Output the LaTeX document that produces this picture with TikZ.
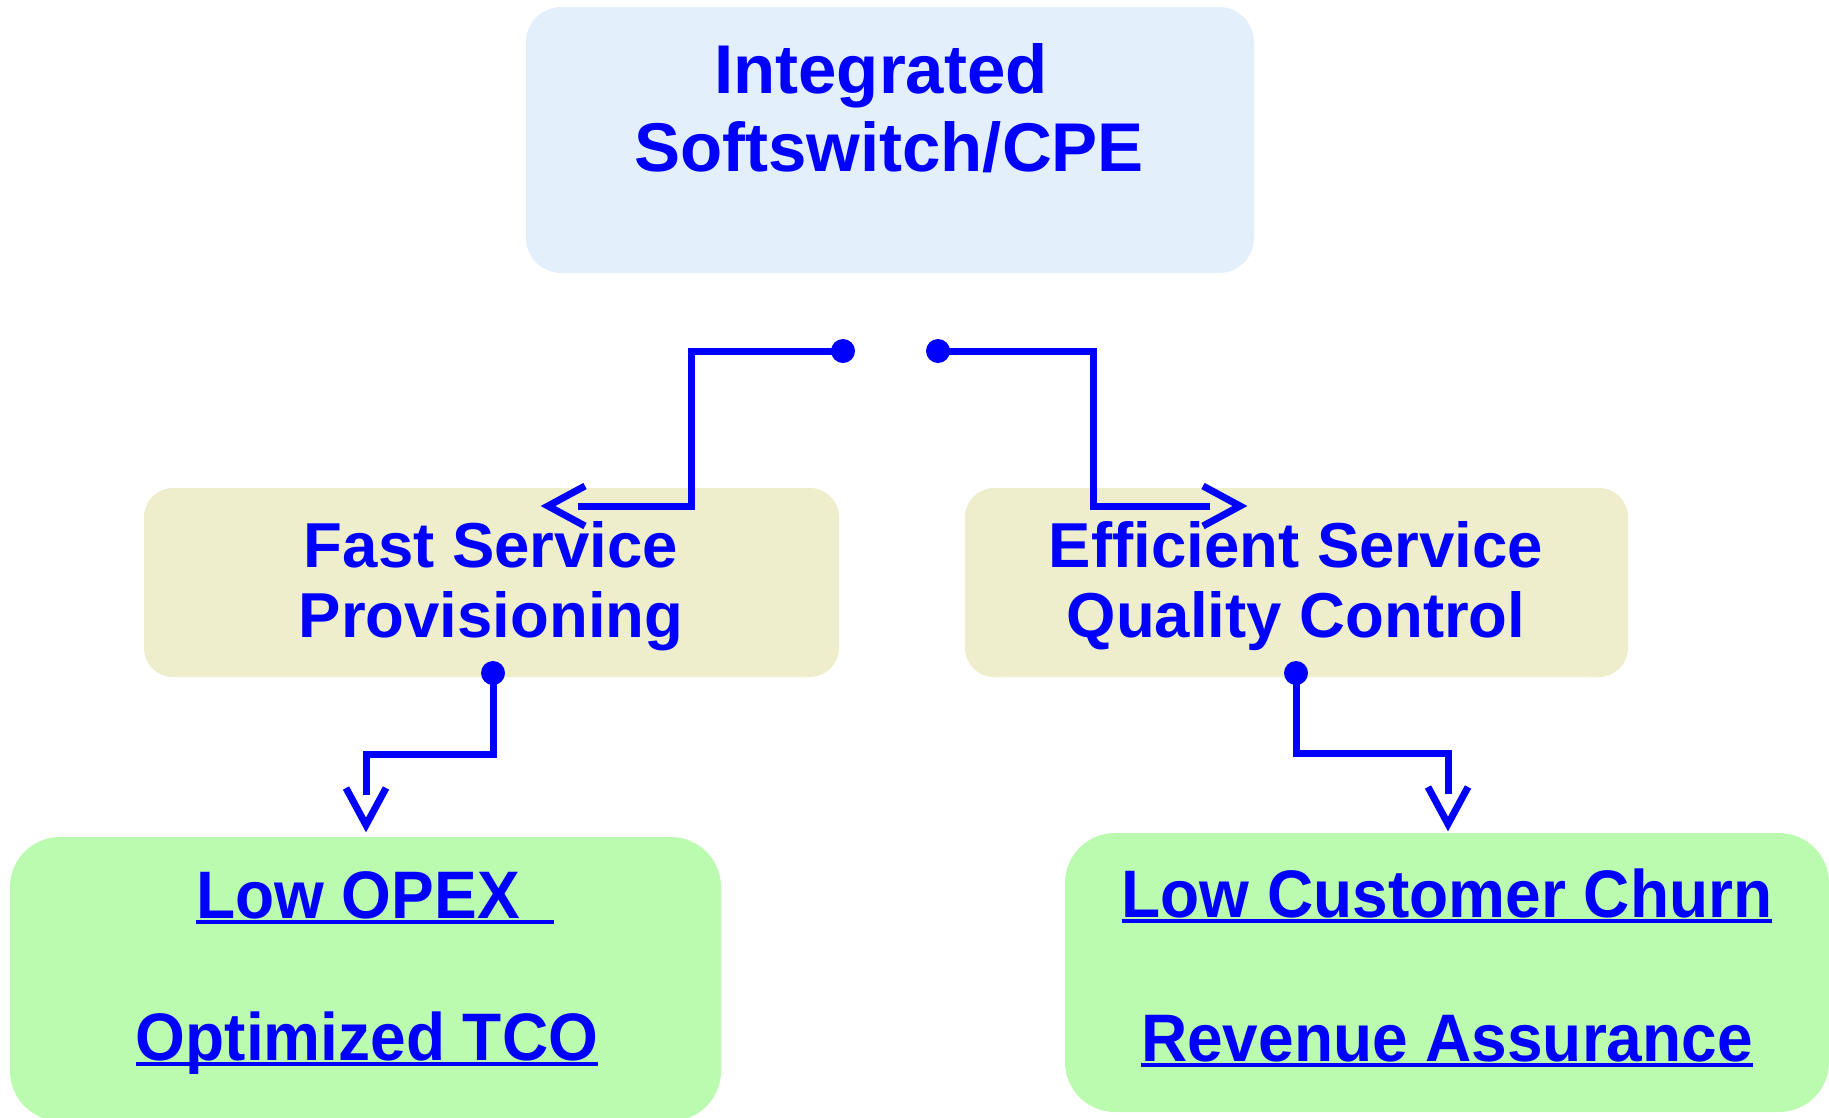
\documentclass[tikz,border=0pt]{standalone}
\usepackage{fontspec}
\usepackage{graphicx}
\setmainfont{Liberation Sans}
\usetikzlibrary{arrows.meta}

\definecolor{linkblue}{RGB}{0,0,255}
\definecolor{topfill}{RGB}{227,239,251}
\definecolor{midfill}{RGB}{238,238,204}
\definecolor{lowfill}{RGB}{187,251,176}

% open V head whose shaft stops short of the point
\pgfdeclarearrow{
  name=OpenVee,
  setup code={
    \pgfarrowssettipend{0pt}
    \pgfarrowssetlineend{-38pt}
    \pgfarrowssetbackend{-46pt}
  },
  drawing code={
    \pgfsetlinewidth{7pt}
    \pgfsetmiterjoin
    \pgfsetbuttcap
    \pgfpathmoveto{\pgfpoint{-45pt}{20pt}}
    \pgfpathlineto{\pgfpoint{-8pt}{0pt}}
    \pgfpathlineto{\pgfpoint{-45pt}{-20pt}}
    \pgfusepathqstroke
  }
}

% underlined text with a heavy rule; optional argument lengthens the rule
\newcommand\heavyul[2][0pt]{\setbox0\hbox{#2}\rlap{\rule[-5.5pt]{\dimexpr\wd0+#1\relax}{3.6pt}}\box0}

\tikzset{
  panel/.style={rounded corners=#1, draw=none, inner sep=0pt},
  headtxt/.style={anchor=base, inner sep=0pt, text=linkblue,
    font=\fontsize{69}{74}\selectfont\bfseries},
  midtxt/.style={anchor=base, inner sep=0pt, text=linkblue,
    font=\fontsize{63.5}{70}\selectfont\bfseries},
  lowtxt/.style={anchor=base, inner sep=0pt, text=linkblue,
    font=\fontsize{64}{70}\selectfont\bfseries},
  dot/.style={circle, fill=linkblue, inner sep=0pt, minimum size=24pt},
  conn/.style={draw=linkblue, line width=7pt, -OpenVee},
}

\begin{document}
\begin{tikzpicture}[x=1pt,y=-1pt]
\useasboundingbox (0,0) rectangle (1829,1117);

% boxes
\path[fill=topfill, rounded corners=35pt] (526,7) rectangle (1254,273);
\node[panel=0pt] (top) at (890,140) {};
\path[fill=midfill, rounded corners=29pt] (144,488) rectangle (839,677);
\node[panel=0pt] (fsp) at (491,582) {};
\path[fill=midfill, rounded corners=29pt] (965,488) rectangle (1628,677);
\node[panel=0pt] (esq) at (1296,582) {};
\path[fill=lowfill, rounded corners=50pt] (10,837) rectangle (721,1121);
\node[panel=0pt] (opex) at (366,979) {};
\path[fill=lowfill, rounded corners=50pt] (1065,833) rectangle (1829,1112);
\node[panel=0pt] (churn) at (1447,972) {};

% texts
\node[headtxt] (t-int) at (881,93) {Integrated};
\node[headtxt] (t-soft) at (889,171) {Softswitch/CPE};
\node[midtxt] (t-fast) at (491,567) {Fast Service};
\node[midtxt] (t-prov) at (491,637) {Provisioning};
\node[midtxt] (t-eff) at (1296,567) {Efficient Service};
\node[midtxt] (t-qual) at (1296,637) {Quality Control};
\node[lowtxt] (t-opex) at (358,918) {\scalebox{1}[1.05]{\heavyul[34pt]{Low OPEX}}};
\node[lowtxt] (t-tco) at (367,1060) {\scalebox{1}[1.05]{\heavyul{Optimized TCO}}};
\node[lowtxt] (t-churn) at (1447,917) {\scalebox{1}[1.05]{\heavyul{Low Customer Churn}}};
\node[lowtxt] (t-rev) at (1447,1061) {\scalebox{1}[1.05]{\heavyul{Revenue Assurance}}};

% connectors
\node[dot] (d1) at (843,351) {};
\node[dot] (d2) at (938,351) {};
\node[dot] (d3) at (493,673) {};
\node[dot] (d4) at (1296,673) {};
\coordinate (a1) at (540,506);
\coordinate (a2) at (1248,506);
\coordinate (a3) at (366,833);
\coordinate (a4) at (1448,832);

\draw[conn] (d1.center) -- ++(-152,0) |- (a1);
\draw[conn] (d2.center) -- ++(155,0) |- (a2);
\draw[conn] (d3.center) -- ++(0,81) -| (a3);
\draw[conn] (d4.center) -- ++(0,80) -| (a4);
\end{tikzpicture}
\end{document}
